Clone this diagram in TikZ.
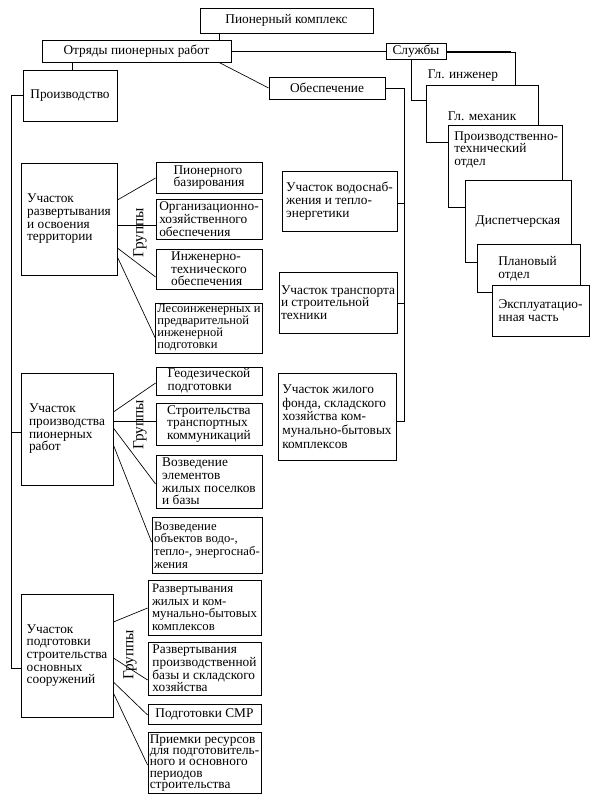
\documentclass[tikz,border=0pt]{standalone}
\usepackage{fontspec}
\setmainfont{Liberation Serif}
\tikzset{
 box/.style={draw, line width=0.6pt, fill=white, inner sep=1.2pt, align=left, font=\fontsize{10}{9.5}\selectfont},
 conn/.style={line width=0.5pt},
 lbl/.style={inner sep=0pt, align=left, font=\fontsize{10}{9.6}\selectfont},
 grp/.style={rotate=90, font=\fontsize{11.5}{12}\selectfont, inner sep=0pt}
}
\newcommand\bx[7][]{\node[box,minimum width={(#5-#3)*0.75pt},minimum height={(#6-#4)*0.75pt},#1] (#2) at ({(#3+#5)/2},{(#4+#6)/2}) {#7};}
\begin{document}
\lineskiplimit=-5pt
\begin{tikzpicture}[x=0.75pt,y=-0.75pt]
\useasboundingbox (0,0) rectangle (597,800);
% top level
\bx{pk}{200}{8}{373}{33}{Пионерный комплекс}
\bx{ot}{42}{40}{231}{62}{Отряды пионерных работ}
\bx{ob}{269}{77}{385}{99}{Обеспечение}
\bx{pr}{23}{70}{117}{121}{Производство}
% left column
\bx{u1}{21}{163}{117}{275}{Участок\\развертывания\\и освоения\\территории}
\bx{u2}{21}{373}{113}{485}{Участок\\производства\\пионерных\\работ}
\bx{u3}{21}{594}{113}{717}{Участок\\подготовки\\строительства\\основных\\сооружений}
\bx{g11}{156}{162}{262}{193}{Пионерного\\базирования}
\bx{g12}{156}{199}{262}{239}{Организационно-\\хозяйственного\\обеспечения}
\bx{g13}{156}{249}{262}{289}{Инженерно-\\технического\\обеспечения}
\bx[font=\fontsize{9.4}{9}\selectfont]{g14}{156}{303}{262}{353}{Лесоинженерных и\\предварительной\\инженерной\\подготовки}
\bx{g21}{156}{367}{262}{395}{Геодезической\\подготовки}
\bx{g22}{156}{403}{262}{445}{Строительства\\транспортных\\коммуникаций}
\bx{g23}{156}{455}{262}{508}{Возведение\\элементов\\жилых поселков\\и базы}
\bx[font=\fontsize{9.5}{9.5}\selectfont]{g24}{152}{517}{262}{573}{Возведение\\объектов водо-,\\тепло-, энергоснаб-\\жения}
\bx[font=\fontsize{9.6}{9.5}\selectfont]{g31}{148}{580}{261}{635}{Развертывания\\жилых и ком-\\мунально-бытовых\\комплексов}
\bx{g32}{148}{642}{261}{695}{Развертывания\\производственной\\базы и складского\\хозяйства}
\bx{g33}{148}{704}{261}{724}{Подготовки СМР}
\bx[font=\fontsize{10}{8.6}\selectfont]{g34}{148}{733}{261}{793}{Приемки ресурсов\\для подготовитель-\\ного и основного\\периодов\\строительства}
\node[grp] (gr1) at (140,233) {Группы};
\node[grp] (gr2) at (140,425) {Группы};
\node[grp] (gr3) at (130,655) {Группы};
% middle column
\bx{m1}{282}{171}{397}{231}{Участок водоснаб-\\жения и тепло-\\энергетики}
\bx{m2}{279}{272}{397}{333}{Участок транспорта\\и строительной\\техники}
\bx[font=\fontsize{10}{10.3}\selectfont]{m3}{278}{373}{396}{460}{Участок жилого\\фонда, складского\\хозяйства ком-\\мунально-бытовых\\комплексов}
% connectors
\draw[conn] (pk.south -| 219,0) -- (ot.north -| 219,0);
\draw[conn] (ot.east) -- (511,51);
\draw[conn] (ot.south -| 219,0) -- (ob.west);
\draw[conn] (ot.south -| 72,0) -- (pr.north -| 72,0);
\coordinate (lv) at (11,0);
\draw[conn] (pr.west) -| (lv |- 0,668) -- (u3.west |- 0,668);
\draw[conn] (lv |- 0,432) -- (u2.west |- 0,432);
\coordinate (mv) at (404,0);
\draw[conn] (ob.east) -| (mv |- 0,421) -- (m3.east |- 0,421);
\draw[conn] (mv |- 0,203) -- (m1.east |- 0,203);
\draw[conn] (mv |- 0,303) -- (m2.east |- 0,303);
% groups connectors
\draw[conn] (u1.east |- 0,200) -- (g11.west |- 0,178);
\draw[conn] (u1.east |- 0,225) -- (g12.west |- 0,225);
\draw[conn] (u1.east |- 0,248) -- (g13.west |- 0,277);
\draw[conn] (u1.east |- 0,257) -- (g14.west |- 0,338);
\draw[conn] (u2.east |- 0,412) -- (g21.west |- 0,383);
\draw[conn] (u2.east |- 0,421) -- (g22.west |- 0,421);
\draw[conn] (u2.east |- 0,428) -- (g23.west |- 0,484);
\draw[conn] (u2.east |- 0,445) -- (g24.west |- 0,542);
\draw[conn] (u3.east |- 0,622) -- (g31.west |- 0,608);
\draw[conn] (u3.east |- 0,658) -- (g32.west |- 0,680);
\draw[conn] (u3.east |- 0,682) -- (g33.west |- 0,715);
\draw[conn] (u3.east |- 0,693) -- (g34.west |- 0,765);
% services cascade
\bx{gi}{411}{52}{515}{100}{}
\node[lbl] (tgi) at (463,76) {Гл. инженер};
\bx{sl}{386}{43}{446}{59}{Службы}
\bx{gm}{426}{85}{538}{142}{}
\node[lbl] (tgm) at (482,116) {Гл. механик};
\bx{pto}{448}{125}{562}{207}{}
\node[lbl,anchor=north west] (tpto) at (454,131) {Производственно-\\технический\\отдел};
\bx{dsp}{465}{180}{571}{262}{}
\node[lbl] (tdsp) at (518,222) {Диспетчерская};
\bx{pln}{477}{244}{580}{292}{}
\node[lbl,anchor=north west] (tpln) at (498,256) {Плановый\\отдел};
\bx{exp}{492}{285}{589}{336}{Эксплуатацио-\\нная часть}
\end{tikzpicture}
\end{document}
